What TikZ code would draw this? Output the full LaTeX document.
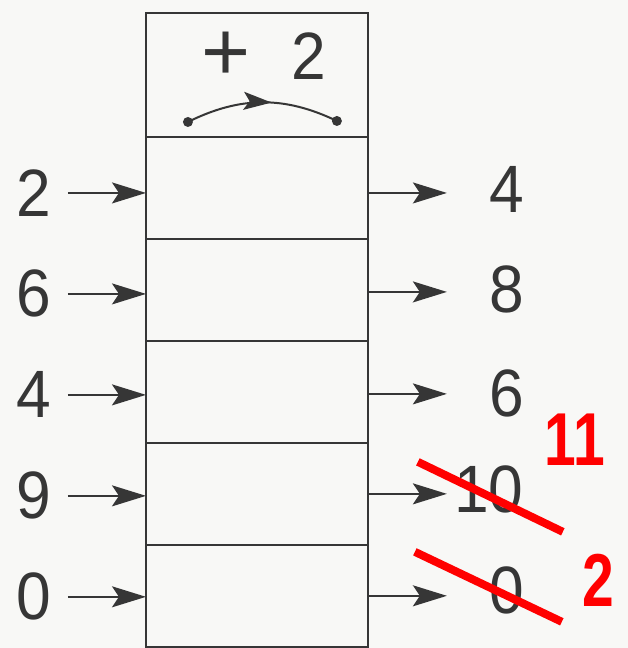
\documentclass[tikz,border=0pt]{standalone}
\usepackage{fontspec}
\setmainfont{Liberation Sans}
\newfontfamily\narrowfont[FakeStretch=0.93]{Liberation Sans}
\newfontfamily\penfont[FakeStretch=0.76]{Liberation Sans}
\usetikzlibrary{positioning,arrows.meta,decorations.markings}
\definecolor{ink}{HTML}{363636}
\definecolor{paper}{HTML}{F8F8F6}
\definecolor{pen}{HTML}{FF0000}

\begin{document}
\begin{tikzpicture}[
    x=1pt, y=-1pt,
    font=\narrowfont\fontsize{67}{67}\selectfont,
    cell/.style={rectangle, draw=ink, line width=2.4pt, minimum width=222pt, minimum height=102pt, inner sep=0pt, outer sep=0pt},
    head/.style={cell, minimum height=124pt},
    num/.style={inner sep=0pt, text=ink},
    dot/.style={circle, fill=ink, inner sep=0pt, minimum size=10pt},
    arr/.style={-{Stealth[length=34pt, width=21pt, inset=7pt]}, line width=1.8pt, draw=ink},
    arc/.style={draw=ink, line width=2pt, postaction={decorate},
        decoration={markings, mark=at position 0.56 with {\arrow{Stealth[length=28pt, width=18pt, inset=6pt]}}}},
    fix/.style={draw=pen, line width=8pt},
    fixnum/.style={inner sep=0pt, text=pen, font=\penfont\fontsize{75}{75}\selectfont\bfseries}
]

\fill[paper] (0,0) rectangle (628,648);

% =========================================================
% Header: rule +2
% =========================================================
\node[head] (hd) at (257,75) {};
\node[num, font=\fontsize{84}{84}\selectfont] (plus) at ([xshift=-31pt, yshift=19pt]hd.center) {+};
\node[num] (step) at ([xshift=52pt, yshift=19pt]hd.center) {2};
\node[dot] (d1) at (188,122) {};
\node[dot] (d2) at (337,121) {};
\draw[arc] (d1.center) to[bend left=26] (d2.center);

% =========================================================
% Rows
% =========================================================
\node[cell, below=0pt of hd] (r1) {};
\node[cell, below=0pt of r1] (r2) {};
\node[cell, below=0pt of r2] (r3) {};
\node[cell, below=0pt of r3] (r4) {};
\node[cell, below=0pt of r4] (r5) {};

% inputs
\node[num, left=95pt of r1, yshift=-5pt] (a1) {2};
\node[num, left=95pt of r2, yshift=-4pt] (a2) {6};
\node[num, left=95pt of r3, yshift=-3pt] (a3) {4};
\node[num, left=95pt of r4, yshift=-2pt] (a4) {9};
\node[num, left=95pt of r5, yshift=-1pt] (a5) {0};

\draw[arr, shorten <=17pt] (a1.east) -- (a1.east -| r1.west);
\draw[arr, shorten <=17pt] (a2.east) -- (a2.east -| r2.west);
\draw[arr, shorten <=17pt] (a3.east) -- (a3.east -| r3.west);
\draw[arr, shorten <=17pt] (a4.east) -- (a4.east -| r4.west);
\draw[arr, shorten <=17pt] (a5.east) -- (a5.east -| r5.west);

% outputs
\coordinate (t1) at ([xshift=79pt, yshift=-5pt]r1.east);
\coordinate (t2) at ([xshift=79pt, yshift=-2pt]r2.east);
\coordinate (t3) at ([xshift=79pt, yshift=-2pt]r3.east);
\coordinate (t4) at ([xshift=79pt, yshift=0pt]r4.east);
\coordinate (t5) at ([xshift=79pt, yshift=0pt]r5.east);

\draw[arr] (t1 -| r1.east) -- (t1);
\draw[arr] (t2 -| r2.east) -- (t2);
\draw[arr] (t3 -| r3.east) -- (t3);
\draw[arr] (t4 -| r4.east) -- (t4);
\draw[arr] (t5 -| r5.east) -- (t5);

\node[num, anchor=east] (b1) at ([xshift=156pt, yshift=-2pt]r1.east) {4};
\node[num, anchor=east] (b2) at ([xshift=156pt, yshift=0pt]r2.east) {8};
\node[num, anchor=east] (b3) at ([xshift=156pt, yshift=-2pt]r3.east) {6};
\node[num, anchor=east] (b4) at ([xshift=156pt, yshift=4pt]r4.east) {10};
\node[num, anchor=east] (b5) at ([xshift=156pt, yshift=5pt]r5.east) {0};

% =========================================================
% Red corrections
% =========================================================
\coordinate (x1a) at (418,462);
\coordinate (x1b) at (563,532);
\coordinate (x2a) at (415,552);
\coordinate (x2b) at (562,622);
\draw[fix] (x1a) -- (x1b);
\draw[fix] (x2a) -- (x2b);
\node[fixnum] (c1) at (575,440) {11};
\node[fixnum] (c2) at (599,580) {2};

\end{tikzpicture}
\end{document}
